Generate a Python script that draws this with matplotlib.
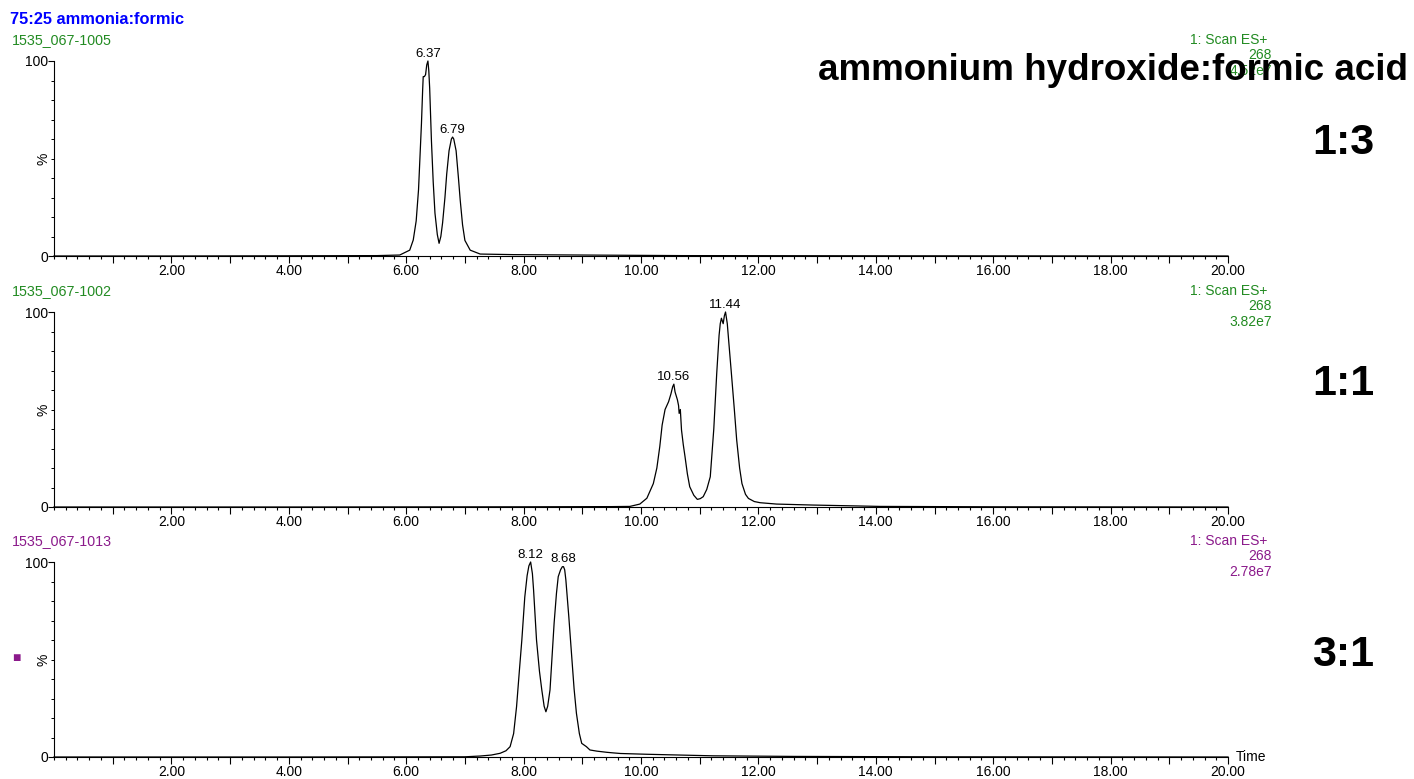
import matplotlib.pyplot as plt
from matplotlib.ticker import MultipleLocator

plt.rcParams['font.family'] = ['Liberation Sans', 'DejaVu Sans']

# traces: time (min) vs % of base peak
t_13 = [0.0, 2.0, 4.0, 5.5, 5.89, 6.06, 6.12, 6.17, 6.21, 6.26, 6.28, 6.29, 6.31, 6.33,
        6.35, 6.37, 6.385, 6.40, 6.43, 6.46, 6.49, 6.53, 6.56, 6.59, 6.62, 6.66, 6.69,
        6.73, 6.77, 6.79, 6.81, 6.85, 6.89, 6.92, 6.96, 7.00, 7.09, 7.26, 7.83, 8.98,
        10.7, 14.0, 20.0]
i_13 = [0.0, 0.0, 0.1, 0.2, 0.5, 3.0, 8.2, 18, 34, 68, 85, 92, 92, 93,
        98, 100, 95, 86, 59, 38, 22, 11, 6.5, 10, 17, 30, 42,
        54, 60, 61, 60, 54, 40, 28.7, 16, 8, 3, 1, 0.7, 0.5,
        0.2, 0.1, 0.0]

t_11 = [0.0, 4.0, 8.0, 9.5, 9.81, 9.98, 10.10, 10.21, 10.27, 10.32, 10.36, 10.41, 10.47,
        10.51, 10.54, 10.56, 10.58, 10.60, 10.62, 10.64, 10.65, 10.67, 10.69, 10.72,
        10.75, 10.79, 10.83, 10.90, 10.96, 11.01, 11.06, 11.12, 11.18, 11.24, 11.29,
        11.33, 11.35, 11.37, 11.40, 11.42, 11.44, 11.47, 11.50, 11.54, 11.59, 11.63,
        11.68, 11.72, 11.78, 11.83, 11.93, 12.03, 12.31, 12.93, 14.07, 16.0, 20.0]
i_11 = [0.0, 0.0, 0.1, 0.2, 0.3, 1.5, 4.5, 12, 20, 31, 42, 50, 54,
        58, 61.7, 63, 59, 57, 55, 52, 48, 50, 39.5, 32,
        25.8, 17, 10.4, 6, 3.9, 4.3, 5.3, 9, 15.5, 40, 68.5,
        88, 94, 96.8, 94, 98, 100, 94, 83, 68.5, 50, 34.4,
        20, 12, 6.5, 4.4, 2.8, 2.2, 1.5, 1.0, 0.3, 0.1, 0.0]

t_31 = [0.0, 4.0, 7.0, 7.26, 7.45, 7.60, 7.70, 7.77, 7.83, 7.88, 7.93, 7.97, 8.02, 8.06,
        8.09, 8.12, 8.15, 8.17, 8.22, 8.27, 8.31, 8.35, 8.38, 8.41, 8.45, 8.52, 8.56,
        8.59, 8.63, 8.66, 8.68, 8.70, 8.72, 8.77, 8.82, 8.86, 8.90, 8.95, 8.99, 9.07,
        9.13, 9.25, 9.42, 9.53, 9.65, 10.10, 11.23, 12.6, 15.0, 20.0]
i_31 = [0.0, 0.0, 0.1, 0.5, 1.0, 1.9, 3.2, 5.3, 12, 25.8, 45, 60, 82, 93,
        98, 100, 94, 85.6, 60, 44, 34.4, 26, 23.2, 26, 34.4, 68.7, 84,
        92.5, 96, 97.6, 97.6, 96, 90.8, 72, 51.4, 35, 22.4, 12, 7, 5.3,
        3.6, 3.0, 2.4, 2.1, 1.8, 1.4, 0.6, 0.3, 0.1, 0.0]

traces = [(t_13, i_13), (t_11, i_11), (t_31, i_31)]
peak_times = [[6.37, 6.79], [10.56, 11.44], [8.12, 8.68]]
peak_heights = [[100, 61], [63, 100], [100, 97.6]]
samples = ['1535_067-1005', '1535_067-1002', '1535_067-1013']
intensities = ['4.52e7', '3.82e7', '2.78e7']
ratios = ['1:3', '1:1', '3:1']

green = '#228b22'
purple = '#8b1a8b'
label_colors = [green, green, purple]

W, H = 1414, 779
fig = plt.figure(figsize=(W / 100, H / 100), dpi=100)

# panel geometry in pixels: (y of 100%, y of 0%), plus y of the ratio label
panels = [(61, 256), (312, 507), (562, 757)]
ratio_y = [143, 384, 655]
x0, x1 = 54, 1228

for k, (ytop, ybot) in enumerate(panels):
    ax = fig.add_axes([x0 / W, 1 - ybot / H, (x1 - x0) / W, (ybot - ytop) / H])
    t, y = traces[k]
    ax.plot(t, y, color='black', lw=0.9, clip_on=False)
    ax.set_xlim(0, 20)
    ax.set_ylim(0, 100)
    for s in ['top', 'right']:
        ax.spines[s].set_visible(False)
    for s in ['left', 'bottom']:
        ax.spines[s].set_linewidth(0.8)

    ax.xaxis.set_minor_locator(MultipleLocator(0.2))
    ax.set_xticks([x for x in range(1, 21)])
    ax.set_xticklabels(['%.2f' % x if x % 2 == 0 else '' for x in range(1, 21)])
    ax.tick_params(axis='x', which='major', length=5, width=0.8, labelsize=10, pad=1)
    ax.tick_params(axis='x', which='minor', length=2.5, width=0.8)

    ax.set_yticks([0, 100])
    ax.set_yticklabels(['0', '100'])
    ax.yaxis.set_minor_locator(MultipleLocator(10))
    ax.tick_params(axis='y', which='major', length=4, width=0.8, labelsize=10, pad=0)
    ax.tick_params(axis='y', which='minor', length=2, width=0.7)

    ax.text(-11 / (x1 - x0), 0.5, '%', transform=ax.transAxes, rotation=90,
            ha='center', va='center', fontsize=10)

    for pt, ph in zip(peak_times[k], peak_heights[k]):
        ax.annotate('%.2f' % pt, (pt, ph), xytext=(0, 1), textcoords='offset points',
                    ha='center', va='bottom', fontsize=9.5, annotation_clip=False)

    c = label_colors[k]
    yl = ytop - 21
    fig.text(12 / W, 1 - yl / H, samples[k], color=c, fontsize=10.3, va='center')
    fig.text(1267 / W, 1 - yl / H, '1: Scan ES+', color=c, fontsize=10, ha='right', va='center')
    fig.text(1272 / W, 1 - (yl + 15) / H, '268', color=c, fontsize=10, ha='right', va='center')
    fig.text(1272 / W, 1 - (yl + 31) / H, intensities[k], color=c, fontsize=10, ha='right', va='center')

    fig.text(1343 / W, 1 - ratio_y[k] / H, ratios[k], fontsize=31,
             fontweight='bold', ha='center', va='center')

    if k == 2:
        ax.text(1.007, 0, 'Time', transform=ax.transAxes, fontsize=10, ha='left', va='center')

fig.text(10 / W, 1 - 19 / H, '75:25 ammonia:formic', color='#0000ff', fontsize=11.8,
         fontweight='bold', va='center')
fig.text(1408 / W, 1 - 70 / H, 'ammonium hydroxide:formic acid', fontsize=26.5,
         fontweight='bold', ha='right', va='center')
fig.text(16 / W, 1 - 658 / H, '\u25a0', color=purple, fontsize=10, ha='center', va='center')

fig.savefig('out.png', dpi=100)
